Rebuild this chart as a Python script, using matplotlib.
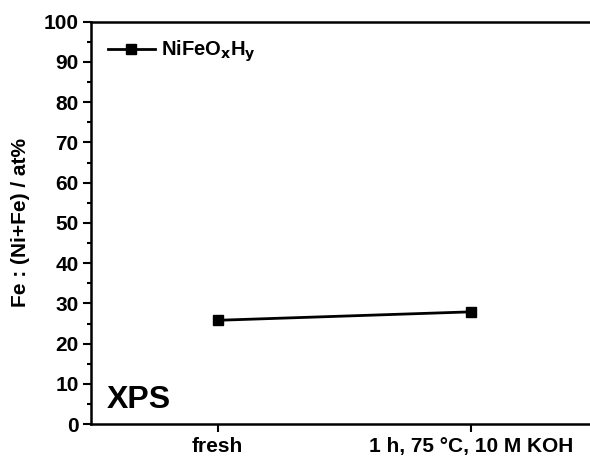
import matplotlib
matplotlib.use('Agg')
import matplotlib.pyplot as plt
from matplotlib.ticker import MultipleLocator

plt.rcParams['font.family'] = ['Liberation Sans', 'DejaVu Sans']
plt.rcParams['font.weight'] = 'bold'
plt.rcParams['mathtext.default'] = 'bf'

conditions = ['fresh', '1 h, 75 \u00b0C, 10 M KOH']
positions = [1, 2]
fe_ratio = [25.8, 27.9]

fig = plt.figure(figsize=(5.9, 4.62), dpi=100)
ax = fig.add_axes([0.1545, 0.082, 0.858, 0.871])

ax.plot(positions, fe_ratio, color='black', lw=2, marker='s', ms=6.5,
        label=r'NiFeO$_\mathbf{x}$H$_\mathbf{y}$')

ax.set_xlim(0.5, 2.5)
ax.set_ylim(0, 100)
ax.set_xticks(positions)
ax.set_xticklabels(conditions)
ax.yaxis.set_major_locator(MultipleLocator(10))
ax.yaxis.set_minor_locator(MultipleLocator(5))
ax.tick_params(axis='both', which='major', direction='out', length=6, width=1.5,
               labelsize=15, pad=3)
ax.tick_params(axis='y', which='minor', direction='out', length=3, width=1.5)
for s in ax.spines.values():
    s.set_linewidth(1.8)
ax.spines['right'].set_visible(False)

ax.set_ylabel('Fe : (Ni+Fe) / at%', fontsize=15, fontweight='bold', labelpad=10)
ax.text(0.03, 0.04, 'XPS', transform=ax.transAxes, fontsize=23,
        fontweight='bold', va='baseline')

ax.legend(loc='upper left', frameon=False, handlelength=2.3, handletextpad=0.3,
          borderaxespad=0.45, prop={'weight': 'bold', 'size': 14.5})

fig.savefig('out.png', dpi=100)
